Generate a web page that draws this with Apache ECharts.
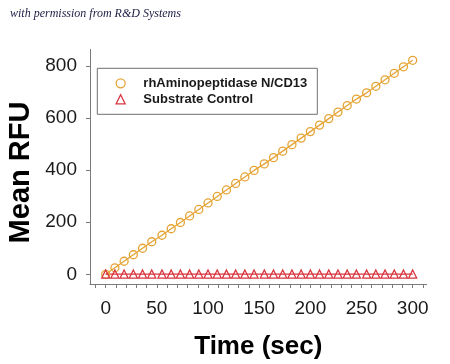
<!DOCTYPE html>
<html>
<head>
<meta charset="utf-8">
<script src="https://cdn.jsdelivr.net/npm/echarts@6/dist/echarts.min.js"></script>
<style>
html,body{margin:0;padding:0;background:#fff;}
#c{width:450px;height:364px;}
</style>
</head>
<body>
<div id="c"></div>
<script>
// ---- data ----
var timeSec = [0, 9, 18, 27, 36, 45, 55, 64, 73, 82, 91, 100, 109, 118, 127, 136, 145,
               155, 164, 173, 182, 191, 200, 209, 218, 227, 236, 245, 255, 264, 273, 282, 291, 300];
var enzymeRFU = [0, 25, 50, 75, 100, 125, 150, 175, 199, 224, 249, 274, 299, 324, 349, 374, 399,
                 424, 448, 473, 498, 523, 548, 573, 598, 623, 648, 673, 697, 722, 747, 772, 797, 822];
var controlRFU = [1, 1, 1, 1, 1, 1, 1, 1, 1, 1, 1, 1, 1, 1, 1, 1, 1,
                  1, 1, 1, 1, 1, 1, 1, 1, 1, 1, 1, 1, 1, 1, 1, 1, 1];
var seriesNames = ['rhAminopeptidase N/CD13', 'Substrate Control'];
var xTickLabels = [0, 50, 100, 150, 200, 250, 300];
var xMinorTicks = [-10, 0, 10, 20, 30, 40, 50, 60, 70, 80, 90, 100, 110, 120, 130, 140, 150,
                   160, 170, 180, 190, 200, 210, 220, 230, 240, 250, 260, 270, 280, 290, 300, 310];
var yTickLabels = [0, 200, 400, 600, 800];

var ORANGE = '#E5A435';
var RED = '#D8343E';
var AXIS = '#7a7a7a';
var HOLLOW = 'rgba(255,255,255,0)';

function pairs(xs, ys) { return xs.map(function (x, i) { return [x, ys[i]]; }); }

var chart = echarts.init(document.getElementById('c'), null, {renderer: 'canvas'});
var option = {
  backgroundColor: '#ffffff',
  animation: false,
  grid: {left: 90, right: 23.3, top: 49.5, bottom: 80},
  xAxis: {
    type: 'value', min: -15.34, max: 313.7,
    axisLine: {show: true, onZero: false, lineStyle: {color: AXIS, width: 1}},
    axisTick: {show: true, length: 4, customValues: xMinorTicks,
      lineStyle: {color: AXIS, width: 1}},
    axisLabel: {show: true, margin: 15, fontSize: 19, color: '#1a1a1a',
      fontFamily: 'Liberation Sans, Arial, sans-serif', customValues: xTickLabels},
    splitLine: {show: false}
  },
  yAxis: {
    type: 'value', min: -37.3, max: 863.4,
    axisLine: {show: true, onZero: false, lineStyle: {color: AXIS, width: 1}},
    axisTick: {show: true, length: 4, customValues: yTickLabels,
      lineStyle: {color: AXIS, width: 1}},
    axisLabel: {show: true, margin: 13, fontSize: 19, color: '#1a1a1a',
      fontFamily: 'Liberation Sans, Arial, sans-serif', customValues: yTickLabels},
    splitLine: {show: false}
  },
  legend: {
    orient: 'vertical',
    left: 97.3, top: 68.3,
    padding: [8, 10, 8, 18.2],
    itemWidth: 9, itemHeight: 9,
    itemGap: 2,
    borderColor: '#707070', borderWidth: 1, borderRadius: 0,
    textStyle: {fontSize: 13, fontWeight: 'bold', color: '#1a1a1a', lineHeight: 14,
      padding: [0, 0, 0, 13.2],
      fontFamily: 'Liberation Sans, Arial, sans-serif'},
    data: [
      {name: seriesNames[0], icon: 'circle',
       itemStyle: {color: HOLLOW, borderColor: ORANGE, borderWidth: 1.3}},
      {name: seriesNames[1], icon: 'triangle',
       itemStyle: {color: HOLLOW, borderColor: RED, borderWidth: 1.3}}
    ]
  },
  series: [
    {name: seriesNames[0], type: 'line', color: ORANGE,
     data: pairs(timeSec, enzymeRFU), clip: false,
     symbol: 'circle', symbolSize: 8, showAllSymbol: true,
     lineStyle: {color: ORANGE, width: 1.3},
     itemStyle: {color: HOLLOW, borderColor: ORANGE, borderWidth: 1.3}},
    {name: seriesNames[1], type: 'line', color: RED,
     data: pairs(timeSec, controlRFU), clip: false,
     symbol: 'triangle', symbolSize: 8, showAllSymbol: true,
     lineStyle: {color: RED, width: 1.3},
     itemStyle: {color: HOLLOW, borderColor: RED, borderWidth: 1.3}}
  ],
  graphic: [
    {type: 'text', left: 10, top: 8,
     style: {text: 'with permission from R&D Systems', fill: '#1c1c44',
       font: 'italic 12px "Liberation Serif", "DejaVu Serif", serif'}},
    {type: 'text', x: 21, y: 172.5, rotation: Math.PI / 2,
     style: {text: 'Mean RFU', fill: '#000', align: 'center', verticalAlign: 'middle',
       font: 'bold 29px "Liberation Sans", Arial, sans-serif'}},
    {type: 'text', x: 258.3, y: 346.5,
     style: {text: 'Time (sec)', fill: '#000', align: 'center', verticalAlign: 'middle',
       font: 'bold 26px "Liberation Sans", Arial, sans-serif'}}
  ]
};
chart.setOption(option);
</script>
</body>
</html>
